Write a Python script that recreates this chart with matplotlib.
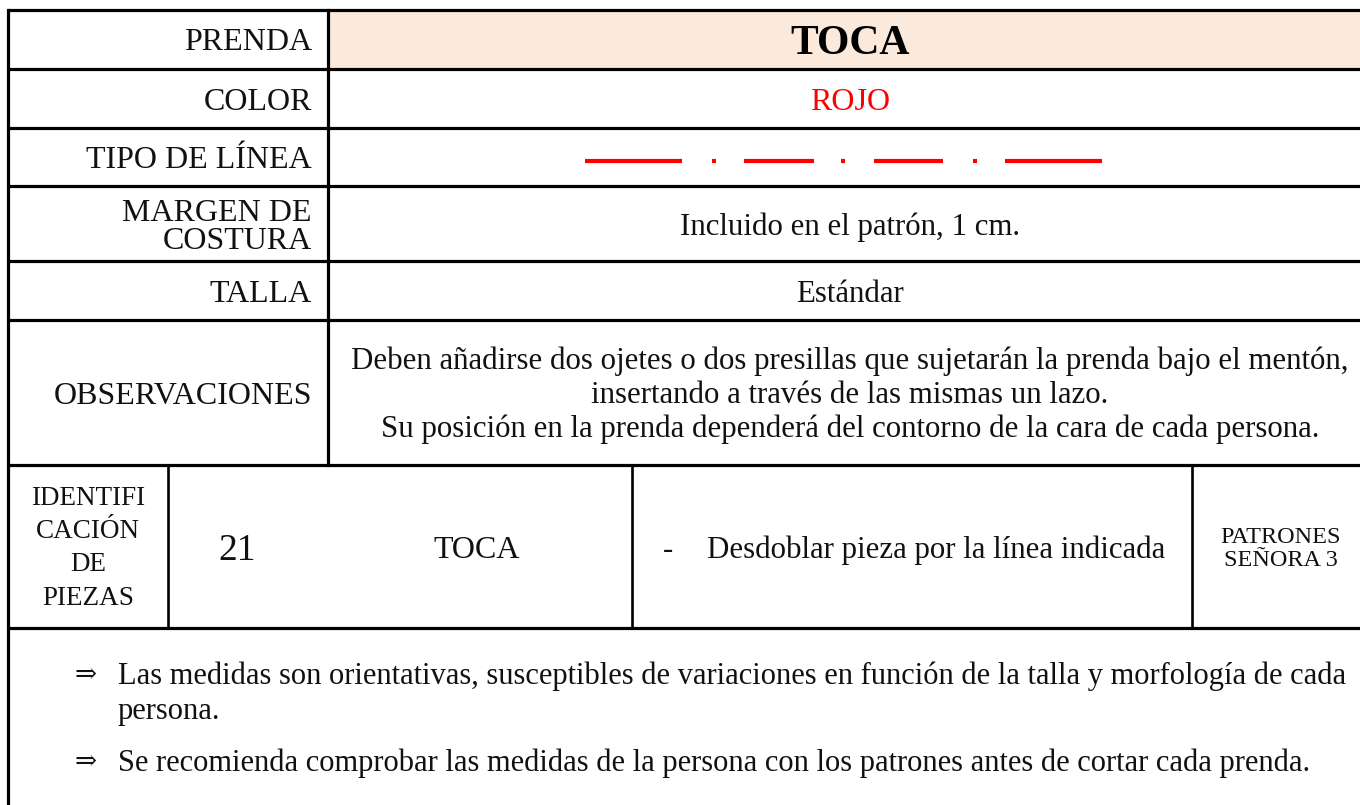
import matplotlib
matplotlib.use('Agg')
import matplotlib.pyplot as plt

# table content
row_labels = ["PRENDA", "COLOR", "TIPO DE LÍNEA", ["MARGEN DE", "COSTURA"], "TALLA", "OBSERVACIONES"]
prenda = "TOCA"
color = "ROJO"
margen = "Incluido en el patrón, 1 cm."
talla = "Estándar"
observ = ["Deben añadirse dos ojetes o dos presillas que sujetarán la prenda bajo el mentón,",
          "insertando a través de las mismas un lazo.",
          "Su posición en la prenda dependerá del contorno de la cara de cada persona."]
pieza_label = ["IDENTIFI", "CACIÓN", "DE", "PIEZAS"]
pieza_num = "21"
pieza_name = "TOCA"
pieza_dash = "-"
pieza_note = "Desdoblar pieza por la línea indicada"
pieza_ref = ["PATRONES", "SEÑORA 3"]
notas = [["Las medidas son orientativas, susceptibles de variaciones en función de la talla y morfología de cada",
          "persona."],
         ["Se recomienda comprobar las medidas de la persona con los patrones antes de cortar cada prenda."]]

# dash-dot red line sample (segments and dots)
red_dashes = [(585, 682), (744, 814), (874, 943), (1005, 1102)]
red_dots = [714, 843, 975]

plt.rcParams['font.family'] = ['Liberation Serif', 'DejaVu Serif']

fig = plt.figure(figsize=(13.6, 8.05), dpi=100)
ax = fig.add_axes([0, 0, 1, 1])
ax.set_xlim(0, 1360)
ax.set_ylim(805, 0)
ax.axis('off')

L, C, R = 8, 328, 1380
rows = [10, 69, 128, 186, 261, 320, 465, 628]
lw = 2.3
txt = '#111111'
fs = 22.2     # body text
fl = 23       # caps labels
va = 'center_baseline'


def lines_at(x, ys, lines, **kw):
    # one text per line so the spacing follows the reference
    for y, s in zip(ys, lines):
        ax.text(x, y, s, va=va, color=txt, **kw)


# peach background of the PRENDA value
ax.fill_between([C, R], rows[0], rows[1], color='#FBE9DB', lw=0)

for y in rows:
    ax.plot([L, R], [y, y], color='black', lw=lw, solid_capstyle='butt')
ax.plot([L, L], [rows[0], 805], color='black', lw=lw)
ax.plot([C, C], [rows[0], rows[6]], color='black', lw=lw)
for x in [168, 632, 1192]:
    ax.plot([x, x], [rows[6], rows[7]], color='black', lw=1.9)

mid = [(rows[i] + rows[i + 1]) / 2 for i in range(len(rows) - 1)]
for i, lab in enumerate(row_labels):
    if isinstance(lab, list):
        lines_at(312, [210, 238], lab, ha='right', fontsize=fl)
    else:
        ax.text(312, mid[i], lab, ha='right', va=va, fontsize=fl, color=txt)

vc = 850
ax.text(vc, mid[0], prenda, ha='center', va=va, fontsize=30, fontweight='bold', color='black')
ax.text(vc, mid[1], color, ha='center', va=va, fontsize=fl, color='#FF0000')
ax.text(vc, mid[3], margen, ha='center', va=va, fontsize=fs, color=txt)
ax.text(vc, mid[4], talla, ha='center', va=va, fontsize=fs, color=txt)
lines_at(vc, [358, 392, 426], observ, ha='center', fontsize=fs)

ly = 161
for x0, x1 in red_dashes:
    ax.plot([x0, x1], [ly, ly], color='#FF0000', lw=3, solid_capstyle='butt')
for x in red_dots:
    ax.plot([x - 2, x + 2], [ly, ly], color='#FF0000', lw=3, solid_capstyle='butt')

lines_at(88, [495, 528, 561, 595], pieza_label, ha='center', fontsize=19.5)
ax.text(237, mid[6], pieza_num, ha='center', va=va, fontsize=27, color=txt)
ax.text(477, mid[6], pieza_name, ha='center', va=va, fontsize=fl, color=txt)
ax.text(668, mid[6], pieza_dash, ha='center', va=va, fontsize=fs, color=txt)
ax.text(936, mid[6], pieza_note, ha='center', va=va, fontsize=fs, color=txt)
lines_at(1281, [535, 558], pieza_ref, ha='center', fontsize=17.5)

note_ys = [[673, 708], [760]]
for ys, lines in zip(note_ys, notas):
    ax.text(74, ys[0], "⇒", ha='left', va=va, fontsize=19, color=txt)
    lines_at(118, ys, lines, ha='left', fontsize=22.0)

fig.savefig('out.png', dpi=100)
